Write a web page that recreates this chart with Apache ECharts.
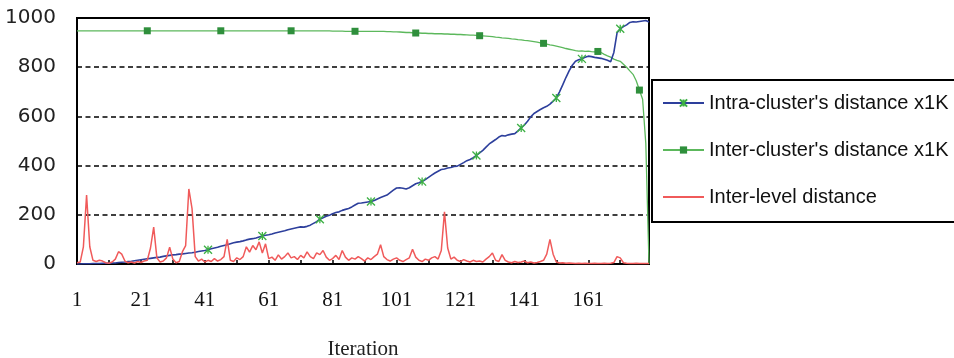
<!DOCTYPE html>
<html>
<head>
<meta charset="utf-8">
<script src="https://cdn.jsdelivr.net/npm/echarts@6/dist/echarts.min.js"></script>
<style>
  html, body { margin: 0; padding: 0; background: #fff; }
  #chart { width: 954px; height: 358px; }
</style>
</head>
<body>
<div id="chart"></div>
<script>
// Iterations 1..180
const iterations = [];
for (let i = 1; i <= 180; i++) iterations.push(String(i));

// Intra-cluster's distance (x1K), one value per iteration
const intraCluster = [
  0,0,1,1,1,2,2,2,3,3,3,4,4,
  6,7,8,10,11,13,15,17,19,21,23,
  25,27,28,31,33,35,37,
  38,40,41,43,45,46,48,51,53,55,58,
  62,65,68,72,75,78,82,86,
  89,91,94,98,101,103,106,110,114,
  117,119,122,126,129,132,135,139,142,145,148,151,
  150,153,158,165,172,182,
  188,194,198,204,209,212,218,
  222,226,232,240,247,248,250,252,254,
  258,264,270,275,280,290,300,309,
  310,308,305,310,
  318,326,330,335,
  343,352,361,370,377,384,
  386,390,392,396,398,
  405,412,420,425,432,441,
  452,462,475,488,497,506,516,
  522,520,525,528,530,541,553,
  565,580,598,612,620,628,635,641,
  650,662,675,
  700,728,758,785,808,824,
  830,834,840,845,
  843,840,838,836,832,828,822,
  860,940,956,965,972,982,985,984,986,988,990,984
];

// Inter-cluster's distance (x1K)
const interCluster = [
  948,948,948,948,948,948,948,948,948,948,
  948,948,948,948,948,948,948,948,948,948,
  948,948,948,948,948,948,948,948,948,948,
  948,948,948,948,948,948,948,948,948,948,
  948,948,948,948,948,948,948,948,948,948,
  948,948,948,948,948,948,948,948,948,948,
  948,948,948,948,948,948,948,948,948,948,
  948,948,948,948,948,948,948,948,948,948,
  947,947,947,947,946,946,946,946,
  946,946,946,946,946,946,946,946,946,
  945,945,944,944,943,942,941,941,940,939,
  939,938,938,937,937,936,936,936,935,935,934,
  934,933,933,932,931,930,930,929,928,
  927,926,925,924,922,921,919,918,917,915,914,
  912,911,909,908,906,904,902,899,897,
  894,891,889,886,883,880,876,873,
  870,867,865,866,864,865,863,862,864,
  860,852,846,841,833,828,
  824,812,800,785,771,745,707,670,490,0
];

// Inter-level distance
const interLevel = [
  5,8,70,280,70,15,10,15,12,5,
  3,8,20,50,40,12,5,8,4,10,
  6,12,15,65,150,25,8,12,25,68,
  20,5,10,50,75,305,225,30,12,20,
  8,15,10,22,12,18,30,100,15,10,
  25,18,30,70,48,75,58,90,45,82,
  22,28,15,37,20,30,45,25,30,18,
  35,25,49,30,22,45,38,55,28,15,
  22,35,18,55,28,15,25,20,30,22,
  12,25,18,30,40,78,30,18,12,20,
  25,15,10,18,25,60,28,15,10,20,
  15,25,30,20,55,212,65,20,28,15,
  10,18,12,8,15,10,12,8,20,30,
  45,15,10,38,15,8,5,10,6,8,
  12,5,8,4,6,10,15,40,100,40,
  8,4,5,3,4,3,2,3,2,3,
  2,2,3,2,2,3,2,3,6,30,
  25,5,3,2,2,3,2,2,2,2
];

// Iterations that carry a marker on each cluster curve
const intraMarkerIters = [42, 59, 77, 93, 109, 126, 140, 151, 159, 171];
const interMarkerIters = [23, 46, 68, 88, 107, 127, 147, 164, 177];

const yTicks = [0, 200, 400, 600, 800, 1000];

const seriesNames = ["Intra-cluster's distance x1K", "Inter-cluster's distance x1K", 'Inter-level distance'];

function withMarkers(values, markerIters) {
  return values.map((v, i) =>
    markerIters.includes(i + 1) ? v : { value: v, symbol: 'none' });
}

const asterisk = 'path://M0,0L10,10M10,0L0,10M5,0L5,10';

const chart = echarts.init(document.getElementById('chart'), null, { renderer: 'canvas' });
chart.setOption({
  animation: false,
  backgroundColor: '#ffffff',
  grid: {
    left: 77, right: 305, top: 18, bottom: 94,
    containLabel: false,
    outerBoundsMode: 'none',
    show: true, borderColor: '#000', borderWidth: 2, backgroundColor: 'transparent'
  },
  legend: {
    orient: 'vertical',
    left: 652, top: 80,
    padding: [13, 60, 15, 10],
    borderColor: '#000', borderWidth: 2,
    itemWidth: 41, itemHeight: 9, itemGap: 27,
    textStyle: { fontFamily: 'Liberation Sans, Arial, sans-serif', fontSize: 20, color: '#111', lineHeight: 20, height: 20 },
    data: [
      { name: seriesNames[0] },
      { name: seriesNames[1] },
      { name: seriesNames[2], itemStyle: { color: 'transparent', borderWidth: 0 } }
    ]
  },
  xAxis: {
    type: 'category',
    data: iterations,
    boundaryGap: false,
    name: 'Iteration',
    nameLocation: 'middle',
    nameGap: 75,
    nameTextStyle: { fontFamily: 'Liberation Serif, Times New Roman, serif', fontSize: 21, color: '#222' },
    axisLine: { lineStyle: { color: '#000', width: 2 } },
    axisTick: { show: true, inside: true, length: 4, interval: 9, lineStyle: { color: '#000', width: 1.5 } },
    axisLabel: {
      interval: 19, margin: 26,
      fontFamily: 'Liberation Serif, Times New Roman, serif', fontSize: 21, color: '#111'
    },
    splitLine: { show: false }
  },
  yAxis: {
    type: 'value',
    min: yTicks[0], max: yTicks[yTicks.length - 1], interval: 200,
    axisLine: { show: true, lineStyle: { color: '#000', width: 2 } },
    axisTick: { show: false },
    axisLabel: {
      margin: 21,
      formatter: (v) => String(v),
      fontFamily: 'DejaVu Sans, sans-serif', fontSize: 20, color: '#222'
    },
    splitLine: { show: true, lineStyle: { color: '#000', width: 1.5, type: [5, 3.5] } }
  },
  series: [
    {
      name: seriesNames[0],
      type: 'line',
      data: withMarkers(intraCluster, intraMarkerIters),
      symbol: asterisk,
      symbolSize: 8,
      showSymbol: true,
      showAllSymbol: true,
      lineStyle: { color: '#2d3f9c', width: 1.6 },
      itemStyle: { color: '#3cb043', borderColor: '#3cb043', borderWidth: 1.3 },
      z: 3
    },
    {
      name: seriesNames[1],
      type: 'line',
      data: withMarkers(interCluster, interMarkerIters),
      symbol: 'rect',
      symbolSize: 7,
      showSymbol: true,
      showAllSymbol: true,
      lineStyle: { color: '#5cb85c', width: 1.3 },
      itemStyle: { color: '#2f8f3c' },
      z: 2
    },
    {
      name: seriesNames[2],
      type: 'line',
      data: interLevel,
      symbol: 'none',
      lineStyle: { color: '#f05a5a', width: 1.5 },
      itemStyle: { color: '#f05a5a' },
      z: 4
    }
  ]
});
</script>
</body>
</html>
